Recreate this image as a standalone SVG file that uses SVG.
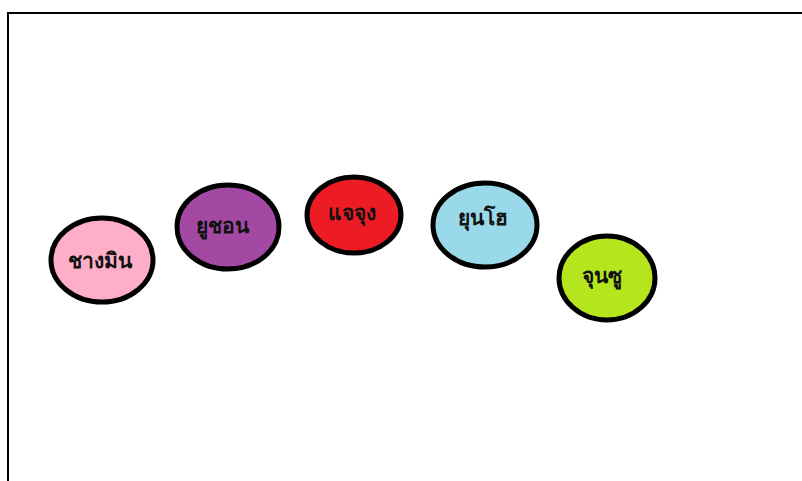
<svg xmlns="http://www.w3.org/2000/svg" width="802" height="481" viewBox="0 0 802 481">
<style>
.n ellipse{stroke:#000;stroke-width:5}
.n text{font-family:"Noto Sans","DejaVu Sans",sans-serif;font-weight:bold;font-size:21px;fill:#111;text-anchor:middle}
</style>
<rect width="802" height="481" fill="#fff"/>
<g id="frame" stroke="#000" stroke-width="2" fill="none">
<path d="M8 481 V13 H802"/>
</g>
<g id="connectors"></g>
<g id="n1" class="n"><ellipse cx="102" cy="260" rx="51" ry="42" fill="#FFAEC9"/><text x="100" y="268">ชางมิน</text></g>
<g id="n2" class="n"><ellipse cx="228" cy="227" rx="51" ry="42" fill="#A349A4"/><text x="222" y="233">ยูชอน</text></g>
<g id="n3" class="n"><ellipse cx="354" cy="215" rx="47" ry="38" fill="#ED1C24"/><text x="352" y="220">แจจุง</text></g>
<g id="n4" class="n"><ellipse cx="485" cy="225" rx="52" ry="42" fill="#99D9EA"/><text x="483" y="225">ยุนโฮ</text></g>
<g id="n5" class="n"><ellipse cx="607" cy="278" rx="48" ry="42" fill="#B5E61D"/><text x="602" y="283">จุนซู</text></g>
</svg>
